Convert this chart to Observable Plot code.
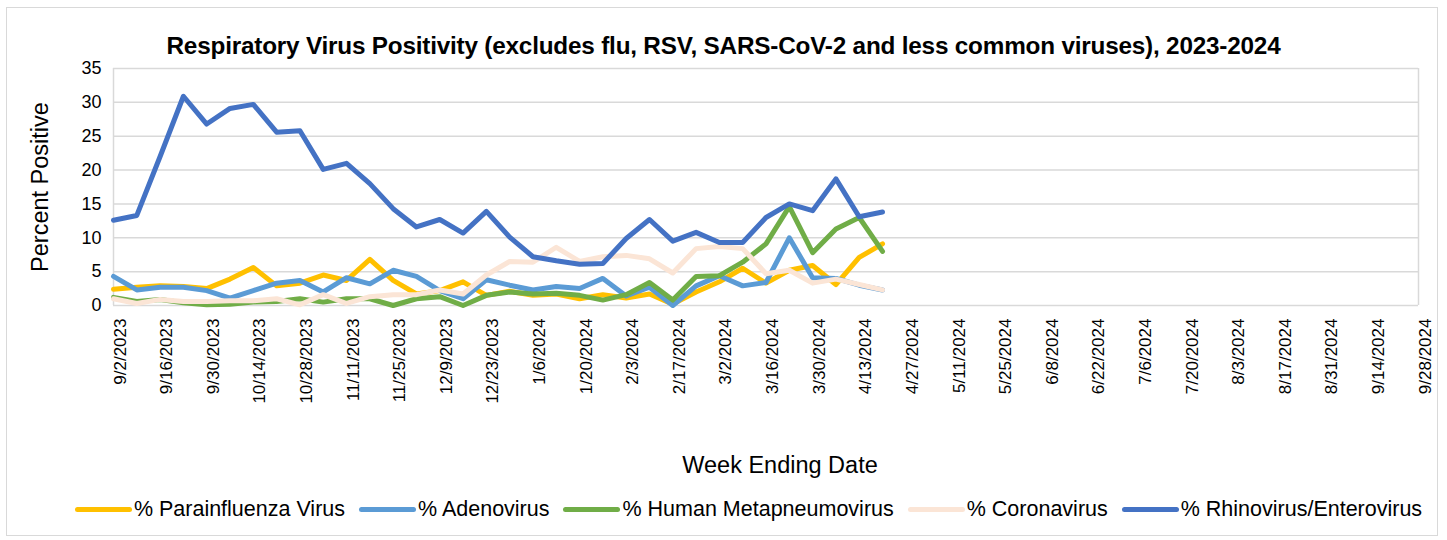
<!DOCTYPE html>
<html><head><meta charset="utf-8">
<script src="https://cdn.jsdelivr.net/npm/d3@7"></script>
<script src="https://cdn.jsdelivr.net/npm/@observablehq/plot@0.6"></script>
<style>
body{margin:0;background:#fff;}
#wrap{position:relative;width:1447px;height:540px;font-family:"Liberation Sans",sans-serif;color:#000;overflow:hidden}
#frame{position:absolute;left:6px;top:7px;width:1432px;height:529px;border:1px solid #d9d9d9;box-sizing:border-box}
#title{position:absolute;top:32px;left:0;width:1447px;text-align:center;font-weight:bold;font-size:24.3px;line-height:27px;white-space:nowrap;letter-spacing:-0.2px}
#chart{position:absolute;left:0;top:58px}
#ylabel{position:absolute;left:40px;top:187px;transform:translate(-50%,-50%) rotate(-90deg);font-size:23.5px;white-space:nowrap}
#xlabel{position:absolute;left:780px;top:465px;transform:translate(-50%,-50%);font-size:23.5px;white-space:nowrap}
#legend{position:absolute;top:497px;left:25px;width:1447px;display:flex;justify-content:center;align-items:center;font-size:21.5px;white-space:nowrap}
.item{display:flex;align-items:center;margin:0 7px}
.sw{display:inline-block;width:57px;height:5px;border-radius:3px;margin-right:2px}
</style></head>
<body>
<div id="wrap">
  <div id="frame"></div>
  <div id="title"></div>
  <div id="chart"></div>
  <div id="ylabel">Percent Positive</div>
  <div id="xlabel">Week Ending Date</div>
  <div id="legend"></div>
</div>
<script>
const titleText = "Respiratory Virus Positivity (excludes flu, RSV, SARS-CoV-2 and less common viruses), 2023-2024";

const weeks = ["2023-09-02","2023-09-09","2023-09-16","2023-09-23","2023-09-30","2023-10-07","2023-10-14","2023-10-21","2023-10-28","2023-11-04","2023-11-11","2023-11-18","2023-11-25","2023-12-02","2023-12-09","2023-12-16","2023-12-23","2023-12-30","2024-01-06","2024-01-13","2024-01-20","2024-01-27","2024-02-03","2024-02-10","2024-02-17","2024-02-24","2024-03-02","2024-03-09","2024-03-16","2024-03-23","2024-03-30","2024-04-06","2024-04-13","2024-04-20"];

const seriesNames = ["% Parainfluenza Virus","% Adenovirus","% Human Metapneumovirus","% Coronavirus","% Rhinovirus/Enterovirus"];
const seriesColors = ["#FFC000","#5B9BD5","#70AD47","#FBE5D6","#4472C4"];

const parainfluenza = [2.4,2.7,2.9,2.8,2.5,3.9,5.6,2.9,3.3,4.5,3.7,6.8,3.7,1.7,2.2,3.5,1.5,2.1,1.5,1.7,1.0,1.6,1.1,1.7,0.2,2.0,3.5,5.5,3.3,5.2,5.9,3.1,7.1,9.1];
const adenovirus    = [4.3,2.3,2.7,2.7,2.2,1.1,2.2,3.3,3.7,2.0,4.1,3.2,5.2,4.3,2.2,1.0,3.8,3.0,2.3,2.8,2.5,4.0,1.4,2.7,0.0,2.9,4.4,2.9,3.4,10.0,4.1,4.0,3.0,2.3];
const hmpv          = [1.2,0.6,0.9,0.4,0.1,0.2,0.5,0.6,1.0,0.5,1.0,1.0,0.0,1.0,1.3,0.0,1.5,2.0,1.7,1.8,1.5,0.8,1.6,3.4,0.8,4.3,4.4,6.4,9.1,14.6,7.8,11.3,13.0,8.0];
const coronavirus   = [1.0,0.3,0.9,0.6,0.6,0.7,0.7,1.0,0.1,1.6,0.3,1.3,1.6,1.6,2.3,1.7,4.5,6.5,6.4,8.6,6.5,7.2,7.4,6.9,4.8,8.4,8.7,8.4,4.7,5.2,3.3,3.9,3.1,2.3];
const rhinovirus    = [12.6,13.3,22.0,30.9,26.8,29.1,29.7,25.6,25.8,20.1,21.0,18.0,14.3,11.6,12.7,10.7,13.9,10.1,7.2,6.6,6.1,6.2,9.9,12.7,9.5,10.8,9.3,9.3,13.0,15.0,14.0,18.7,13.1,13.8];

const tickLabels = ["9/2/2023","9/16/2023","9/30/2023","10/14/2023","10/28/2023","11/11/2023","11/25/2023","12/9/2023","12/23/2023","1/6/2024","1/20/2024","2/3/2024","2/17/2024","3/2/2024","3/16/2024","3/30/2024","4/13/2024","4/27/2024","5/11/2024","5/25/2024","6/8/2024","6/22/2024","7/6/2024","7/20/2024","8/3/2024","8/17/2024","8/31/2024","9/14/2024","9/28/2024"];
const yTicks = [0,5,10,15,20,25,30,35];

document.getElementById("title").textContent = titleText;

const parseISO = d3.utcParse("%Y-%m-%d");
const parseUS = d3.utcParse("%m/%d/%Y");
const valueSets = [parainfluenza, adenovirus, hmpv, coronavirus, rhinovirus];
const data = valueSets.flatMap((vals, s) => vals.map((v, i) => ({date: parseISO(weeks[i]), value: v, series: seriesNames[s]})));
const tickDates = tickLabels.map(parseUS);
const fmt = d3.utcFormat("%-m/%-d/%Y");

const chart = Plot.plot({
  width: 1447,
  height: 420,
  marginLeft: 113,
  marginRight: 29,
  marginTop: 10,
  marginBottom: 173,
  style: {fontFamily: '"Liberation Sans",sans-serif', color: "#000", background: "transparent", overflow: "visible"},
  x: {type: "utc", domain: [tickDates[0], tickDates[tickDates.length - 1]]},
  y: {domain: [0, 35]},
  color: {domain: seriesNames, range: seriesColors},
  marks: [
    Plot.gridY(yTicks, {stroke: "#d9d9d9", strokeOpacity: 1, strokeWidth: 1.5}),
    Plot.ruleX([tickDates[0], tickDates[tickDates.length - 1]], {stroke: "#d9d9d9", strokeWidth: 1.5}),
    Plot.axisY(yTicks, {tickSize: 0, tickPadding: 12, fontSize: 18, label: null}),
    Plot.axisX(tickDates, {tickSize: 0, tickPadding: 13, rotate: -90, textAnchor: "end", fontSize: 17, tickFormat: fmt, label: null}),
    Plot.lineY(data, {x: "date", y: "value", z: "series", stroke: "series", strokeWidth: 5, strokeLinejoin: "round", strokeLinecap: "round"})
  ]
});
document.getElementById("chart").appendChild(chart);

const legend = document.getElementById("legend");
seriesNames.forEach((n, i) => {
  const it = document.createElement("div"); it.className = "item";
  const sw = document.createElement("span"); sw.className = "sw"; sw.style.background = seriesColors[i];
  const tx = document.createElement("span"); tx.textContent = n;
  it.appendChild(sw); it.appendChild(tx); legend.appendChild(it);
});
</script>
</body></html>
